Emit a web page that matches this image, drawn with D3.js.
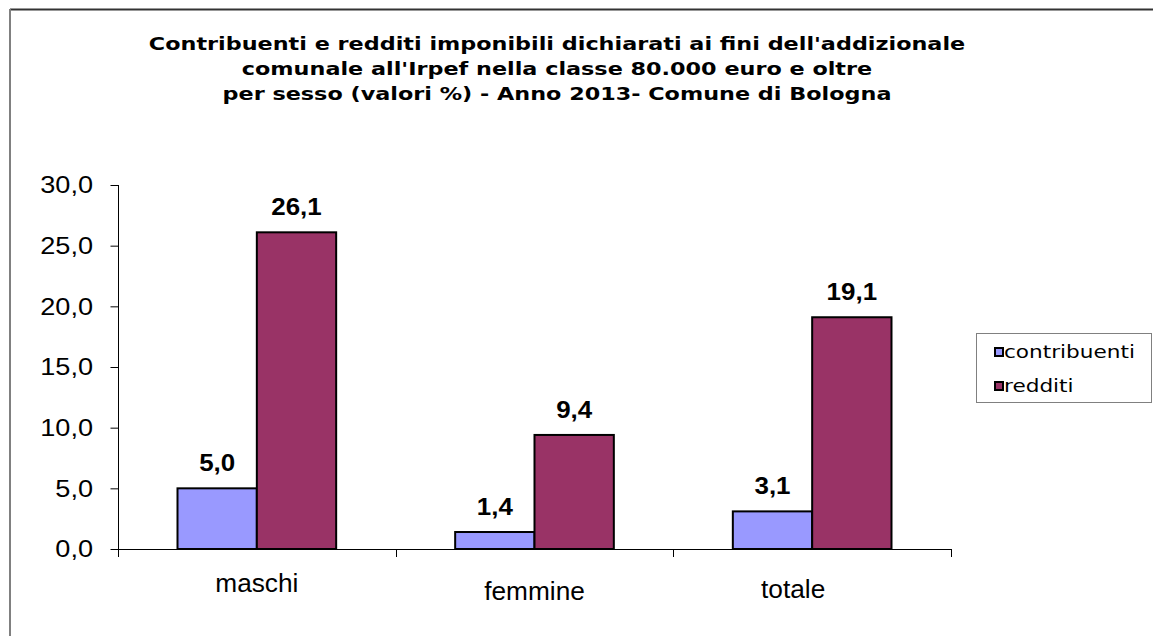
<!DOCTYPE html>
<html>
<head>
<meta charset="utf-8">
<script src="https://cdn.jsdelivr.net/npm/d3@7"></script>
<style>
  html, body { margin: 0; padding: 0; background: #fff; }
  svg { display: block; }
</style>
</head>
<body>
<svg id="chart" width="1153" height="636"></svg>
<script>
// chart data
var categories = ["maschi", "femmine", "totale"];
var seriesNames = ["contribuenti", "redditi"];
var contribuenti = [5.0, 1.4, 3.1];
var redditi = [26.1, 9.4, 19.1];
var yTicks = [0, 5, 10, 15, 20, 25, 30];
var titleLines = [
    "Contribuenti e redditi imponibili dichiarati ai fini dell'addizionale",
    "comunale all'Irpef nella classe 80.000 euro e oltre",
    "per sesso (valori %) - Anno 2013- Comune di Bologna"
];

var COLORS = ["#9999ff", "#993366"];
var plot = {left: 118, right: 951, top: 185, bottom: 549};
// the original picture is stretched sideways a bit
var STRETCH = 1.2;

var svg = d3.select("#chart");
var fmt = function (v) { return d3.format(".1f")(v).replace(".", ","); };

// outer frame (only top and left edges are visible in the picture)
svg.append("line").attr("x1", 10).attr("x2", 1153).attr("y1", 9.5).attr("y2", 9.5)
    .attr("stroke", "#333").attr("stroke-width", 2);
svg.append("line").attr("x1", 10).attr("x2", 10).attr("y1", 9).attr("y2", 636)
    .attr("stroke", "#808080").attr("stroke-width", 2);

// title
svg.append("g").selectAll("text").data(titleLines).enter().append("text")
    .attr("transform", function (d, i) {
        return "translate(557," + (50 + i * 25) + ") scale(1.24,1)";
    })
    .attr("text-anchor", "middle")
    .style("font-family", "'DejaVu Sans', Verdana, sans-serif")
    .style("font-weight", "bold")
    .style("font-size", "18px")
    .text(function (d) { return d; });

var x0 = d3.scaleBand().domain(categories).range([plot.left, plot.right]);
// Excel gap width 150%: bar = band / (2 + 1.5)
var x1 = d3.scaleBand().domain(seriesNames)
    .range([0, x0.bandwidth() * 2 / 3.5]);
var y = d3.scaleLinear().domain([0, 30]).range([plot.bottom, plot.top]);

var rows = categories.map(function (c, i) {
    return {cat: c, values: [contribuenti[i], redditi[i]]};
});

// bars
var groups = svg.append("g").selectAll("g").data(rows).enter().append("g")
    .attr("transform", function (d) {
        return "translate(" + (x0(d.cat) + (x0.bandwidth() - x1.range()[1]) / 2) + ",0)";
    });

groups.selectAll("rect").data(function (d) {
    return d.values.map(function (v, i) { return {name: seriesNames[i], value: v, idx: i}; });
}).enter().append("rect")
    .attr("x", function (d) { return x1(d.name); })
    .attr("y", function (d) { return y(d.value); })
    .attr("width", x1.bandwidth())
    .attr("height", function (d) { return y(0) - y(d.value); })
    .attr("fill", function (d) { return COLORS[d.idx]; })
    .attr("stroke", "#000")
    .attr("stroke-width", 2);

groups.selectAll("text.val").data(function (d) {
    return d.values.map(function (v, i) { return {name: seriesNames[i], value: v}; });
}).enter().append("text")
    .attr("class", "val")
    .attr("transform", function (d) {
        return "translate(" + (x1(d.name) + x1.bandwidth() / 2) + "," + (y(d.value) - 17) +
            ") scale(1.08,1)";
    })
    .attr("text-anchor", "middle")
    .style("font-family", "'Liberation Sans', Arial, sans-serif")
    .style("font-weight", "bold")
    .style("font-size", "24px")
    .text(function (d) { return fmt(d.value); });

// y axis
var yAxis = d3.axisLeft(y).tickValues(yTicks).tickSize(8).tickPadding(0).tickFormat(fmt);
var gy = svg.append("g").attr("transform", "translate(" + plot.left + ",0)").call(yAxis);
gy.select(".domain").attr("d", "M0.5," + plot.top + "V" + plot.bottom)
    .attr("stroke", "#000");
gy.selectAll(".tick line").attr("stroke", "#000").attr("x2", -8).attr("transform", "translate(0.5,0)");
gy.selectAll(".tick text")
    .attr("x", null)
    .attr("transform", "translate(-25,0) scale(1.13,1)")
    .style("font-family", "'Liberation Sans', Arial, sans-serif")
    .style("font-size", "24px")
    .attr("fill", "#000");

// x axis
var xAxis = d3.axisBottom(x0).tickSize(0).tickPadding(0);
var gx = svg.append("g").attr("transform", "translate(0," + plot.bottom + ")").call(xAxis);
gx.select(".domain").attr("d", "M" + plot.left + ",0.5H" + plot.right).attr("stroke", "#000");
gx.selectAll(".tick text")
    .attr("y", null)
    .attr("dy", 0)
    .attr("transform", function (d, i) {
        // Excel places these labels slightly unevenly
        var dx = [0, 0, -19][i], dy = [43, 51, 49][i];
        return "translate(" + dx + "," + dy + ") scale(1.05,1)";
    })
    .style("font-family", "'Liberation Sans', Arial, sans-serif")
    .style("font-size", "25px")
    .attr("fill", "#000");
// category separators
var bounds = categories.map(function (c) { return x0(c); }).concat([plot.right]);
gx.selectAll("line.sep").data(bounds).enter().append("line")
    .attr("class", "sep")
    .attr("x1", function (d) { return Math.round(d) + 0.5; })
    .attr("x2", function (d) { return Math.round(d) + 0.5; })
    .attr("y1", 0).attr("y2", 8)
    .attr("stroke", "#000");

// legend
var legend = svg.append("g").attr("transform", "translate(976,333)");
legend.append("rect").attr("x", 0.5).attr("y", 0.5).attr("width", 175).attr("height", 69)
    .attr("fill", "#fff").attr("stroke", "#808080");
var items = legend.selectAll("g.item").data(seriesNames).enter().append("g")
    .attr("class", "item")
    .attr("transform", function (d, i) { return "translate(0," + (19 + i * 34) + ")"; });
items.append("rect").attr("x", 19).attr("y", -4).attr("width", 8).attr("height", 8)
    .attr("fill", function (d, i) { return COLORS[i]; })
    .attr("stroke", "#000").attr("stroke-width", 2);
items.append("text")
    .attr("transform", "translate(28,6) scale(" + STRETCH + ",1)")
    .style("font-family", "'DejaVu Sans', Verdana, sans-serif")
    .style("font-size", "18px")
    .text(function (d) { return d; });
</script>
</body>
</html>
